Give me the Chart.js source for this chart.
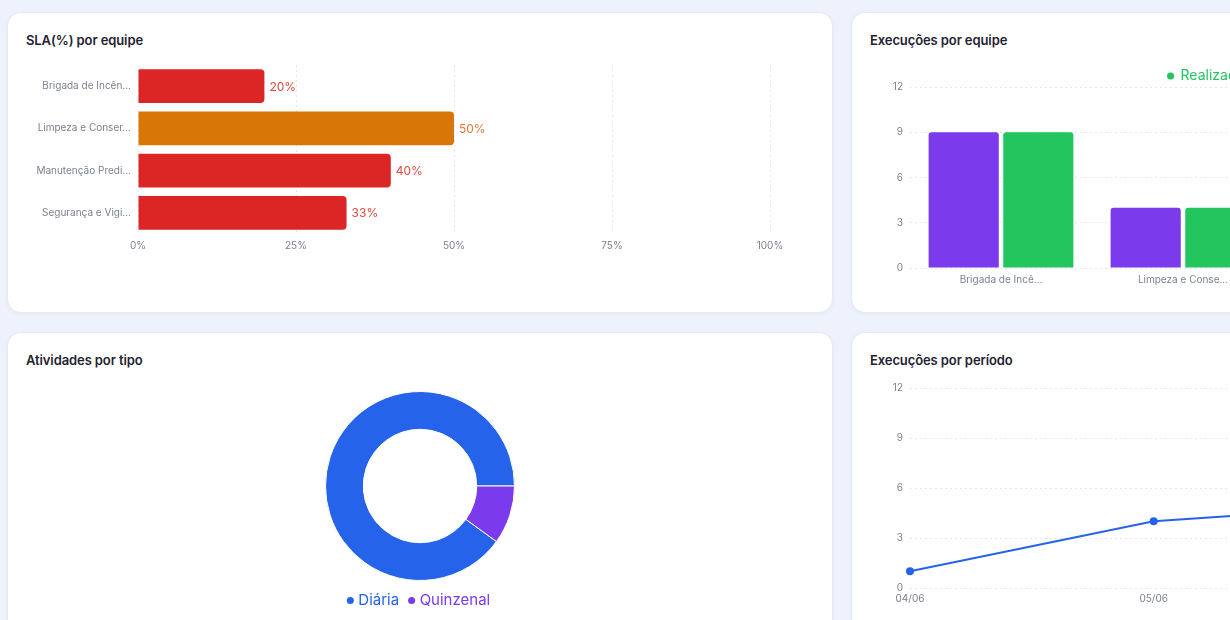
<!DOCTYPE html>
<html>
<head>
<meta charset="utf-8">
<script src="https://cdn.jsdelivr.net/npm/chart.js@4.4.0/dist/chart.umd.min.js"></script>
<style>
  html, body { margin: 0; padding: 0; background: #eef2fc; overflow: hidden; }
  body { width: 1230px; height: 620px; position: relative; font-family: Inter, "Noto Sans", sans-serif; }
  .card { position: absolute; background: #fff; border-radius: 14px; border: 1px solid #e5eaf7;
          box-shadow: 0 1px 4px rgba(60, 80, 140, 0.06); box-sizing: border-box; }
  .card h3 { position: absolute; left: 18px; top: 19px; margin: 0; font-size: 13px; line-height: 16px;
             font-weight: 600; color: #1f2231; letter-spacing: -0.1px; }
  canvas { position: absolute; }
</style>
</head>
<body>
<div class="card" style="left:7px;top:12px;width:826px;height:301px;"><h3>SLA(%) por equipe</h3></div>
<div class="card" style="left:851px;top:12px;width:826px;height:301px;"><h3>Execuções por equipe</h3></div>
<div class="card" style="left:7px;top:332px;width:826px;height:320px;"><h3>Atividades por tipo</h3></div>
<div class="card" style="left:851px;top:332px;width:826px;height:320px;"><h3>Execuções por período</h3></div>

<canvas id="slaChart" width="790" height="212" style="left:20px;top:52px;"></canvas>
<canvas id="equipeChart" width="790" height="231" style="left:870px;top:65px;"></canvas>
<canvas id="tipoChart" width="800" height="227" style="left:20px;top:391px;"></canvas>
<canvas id="periodoChart" width="790" height="241" style="left:870px;top:375px;"></canvas>

<script>
// --------------------
// Data
// --------------------
const equipes = ["Brigada de Incêndio", "Limpeza e Conservação", "Manutenção Predial", "Segurança e Vigilância"];
const slaValues = [20, 50, 40, 33];
const slaTicks = [0, 25, 50, 75, 100];

const planejadas = [9, 4, 6, 5];
const realizadas = [9, 4, 5, 4];

const tipos = ["Diária", "Quinzenal"];
const tipoCounts = [9, 1];

const periodos = ["04/06", "05/06", "06/06", "07/06"];
const execPorPeriodo = [1, 4, 5, 3];

// --------------------
// Shared styles
// --------------------
const RED = "#dc2626", ORANGE = "#d97706", PURPLE = "#7c3aed", GREEN = "#22c55e", BLUE = "#2563eb";
const tickColor = "#7b8190";
const gridColor = "#e4e7ee";
const tickFont = { family: "Inter", size: 10 };

Chart.defaults.font.family = "Inter";
Chart.defaults.animation = false;

const trunc = (s, n) => s.length > n ? s.slice(0, n) + "..." : s;
const slaColor = v => v >= 50 ? ORANGE : RED;
const slaLabelColor = v => v >= 50 ? "#df7a3a" : "#de4a3c";

// value labels next to horizontal bars
const valueLabels = {
  id: "valueLabels",
  afterDatasetsDraw(chart) {
    const ctx = chart.ctx;
    const meta = chart.getDatasetMeta(0);
    ctx.save();
    ctx.font = "12px Inter";
    ctx.textBaseline = "middle";
    meta.data.forEach((bar, i) => {
      ctx.fillStyle = slaLabelColor(slaValues[i]);
      ctx.fillText(slaValues[i] + "%", bar.x + 5, bar.y + 1);
    });
    ctx.restore();
  }
};

// legend text in dataset colour
function paintItems(items) {
  items.forEach(it => { it.fontColor = it.fillStyle; it.strokeStyle = it.fillStyle; it.lineWidth = 0; });
  return items;
}

// shrink the space under a legend
const tightLegend = amount => ({
  id: "tightLegend",
  beforeInit(chart) {
    const fit = chart.legend.fit;
    chart.legend.fit = function () { fit.call(this); this.height -= amount; };
  }
});

// --------------------
// SLA(%) por equipe
// --------------------
new Chart(document.getElementById("slaChart"), {
  type: "bar",
  data: {
    labels: equipes,
    datasets: [{
      data: slaValues,
      backgroundColor: slaValues.map(slaColor),
      borderRadius: 4,
      borderSkipped: "start",
      categoryPercentage: 1,
      barPercentage: 0.8
    }]
  },
  options: {
    indexAxis: "y",
    responsive: false,
    layout: { padding: { top: 0, right: 40, bottom: 6, left: 0 } },
    plugins: { legend: { display: false }, tooltip: { enabled: false } },
    scales: {
      x: {
        min: 0, max: 100,
        afterBuildTicks: s => { s.ticks = slaTicks.map(v => ({ value: v })); },
        ticks: { callback: v => v + "%", color: tickColor, font: tickFont, padding: 6 },
        grid: { color: gridColor, drawTicks: false },
        border: { display: false, dash: [2, 3] }
      },
      y: {
        afterFit: s => { s.width = 118; },
        ticks: { callback: (v, i) => trunc(equipes[i], 16), color: tickColor, font: tickFont, padding: 7 },
        grid: { display: false, drawTicks: false },
        border: { display: false }
      }
    }
  },
  plugins: [valueLabels]
});

// --------------------
// Execuções por equipe
// --------------------
new Chart(document.getElementById("equipeChart"), {
  type: "bar",
  data: {
    labels: equipes,
    datasets: [
      { label: "Planejadas", data: planejadas, backgroundColor: PURPLE, borderRadius: 3, borderSkipped: "start",
        categoryPercentage: 0.82, barPercentage: 0.94 },
      { label: "Realizadas", data: realizadas, backgroundColor: GREEN, borderRadius: 3, borderSkipped: "start",
        categoryPercentage: 0.82, barPercentage: 0.94 }
    ]
  },
  options: {
    responsive: false,
    layout: { padding: { top: 0, right: 22, bottom: 4, left: 0 } },
    plugins: {
      tooltip: { enabled: false },
      legend: {
        position: "top",
        reverse: true,
        labels: { usePointStyle: true, pointStyle: "circle", boxWidth: 6, boxHeight: 5, padding: 4,
                  font: { family: "Inter", size: 14 },
                  generateLabels: chart => paintItems(Chart.defaults.plugins.legend.labels.generateLabels(chart)) }
      }
    },
    scales: {
      x: {
        ticks: { callback: (v, i) => trunc(equipes[i], 15), color: tickColor, font: tickFont, padding: 6 },
        grid: { display: false, drawTicks: false },
        border: { display: false }
      },
      y: {
        min: 0, max: 12,
        afterFit: s => { s.width = 40; },
        ticks: { stepSize: 3, color: tickColor, font: tickFont, padding: 7 },
        grid: { color: gridColor, drawTicks: false },
        border: { display: false, dash: [2, 3] }
      }
    }
  },
  plugins: [tightLegend(6)]
});

// --------------------
// Atividades por tipo
// --------------------
new Chart(document.getElementById("tipoChart"), {
  type: "doughnut",
  data: {
    labels: tipos,
    datasets: [{ data: tipoCounts, backgroundColor: [BLUE, PURPLE], borderColor: "#fff", borderWidth: 1 }]
  },
  options: {
    responsive: false,
    cutout: "60%",
    rotation: 126,
    plugins: {
      tooltip: { enabled: false },
      legend: {
        position: "bottom",
        labels: { usePointStyle: true, pointStyle: "circle", boxWidth: 1, boxHeight: 5, padding: 12,
                  font: { family: "Inter", size: 15 },
                  generateLabels: chart => paintItems(Chart.overrides.doughnut.plugins.legend.labels.generateLabels(chart)) }
      }
    }
  }
});

// --------------------
// Execuções por período
// --------------------
new Chart(document.getElementById("periodoChart"), {
  type: "line",
  data: {
    labels: periodos,
    datasets: [{
      data: execPorPeriodo,
      borderColor: BLUE,
      backgroundColor: BLUE,
      borderWidth: 2,
      pointRadius: 3,
      tension: 0
    }]
  },
  options: {
    responsive: false,
    layout: { padding: { top: 2, right: 15, bottom: 6, left: 0 } },
    plugins: { legend: { display: false }, tooltip: { enabled: false } },
    scales: {
      x: {
        ticks: { color: tickColor, font: tickFont, padding: 5 },
        grid: { display: false, drawTicks: false },
        border: { display: false }
      },
      y: {
        min: 0, max: 12,
        afterFit: s => { s.width = 40; },
        ticks: { stepSize: 3, color: tickColor, font: tickFont, padding: 7 },
        grid: { color: gridColor, drawTicks: false },
        border: { display: false, dash: [2, 3] }
      }
    }
  }
});
</script>
</body>
</html>
